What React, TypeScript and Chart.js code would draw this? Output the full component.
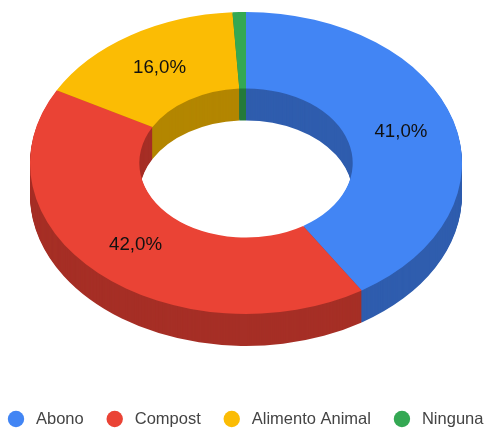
import React, { useEffect, useRef } from "react";
import { Chart, registerables } from "chart.js";

Chart.register(...registerables);

const categories = ["Abono", "Compost", "Alimento Animal", "Ninguna"];
const shares = [41, 42, 16, 1];
const faceColors = ["#4285F4", "#EA4335", "#FBBC04", "#34A853"];
const wallColors = ["#2F5DAE", "#A62F26", "#B38600", "#257A3B"];

// Slices thinner than this carry no percentage label.
const LABEL_MIN_SHARE = 5;

// Tilted-disc projection of the ring.
const CENTER_X = 246;
const CENTER_Y = 163;
const TILT = 151 / 216;
const DEPTH = 32;

// Legend row metrics: the row is wider than the built-in legend's wrapping allows.
const LEGEND_FONT = '16.5px "Liberation Sans", Arial, sans-serif';
const LEGEND_LEFT = 16;
const LEGEND_Y = 419;
const LEGEND_MARKER_RADIUS = 8.2;
const LEGEND_TEXT_OFFSET = 20;
const LEGEND_GAP = 31;

const arcGeometry = (arc: any) =>
  arc.getProps(["x", "y", "startAngle", "endAngle", "innerRadius", "outerRadius"], true);

const applyTilt = (ctx: CanvasRenderingContext2D, x: number, y: number) => {
  ctx.translate(CENTER_X, CENTER_Y);
  ctx.scale(1, TILT);
  ctx.translate(-x, -y);
};

// Tilts the doughnut, stacks darker copies of each slice beneath it for the
// side walls, and writes the percentages on top of the finished face.
const tiltedRing = {
  id: "tiltedRing",
  beforeDatasetsDraw(chart: any) {
    const { ctx } = chart;
    const arcs = chart.getDatasetMeta(0).data;
    const { x, y } = arcGeometry(arcs[0]);
    ctx.save();
    applyTilt(ctx, x, y);
    for (let d = DEPTH; d >= 1; d--) {
      arcs.forEach((arc: any, i: number) => {
        const g = arcGeometry(arc);
        const dy = d / TILT;
        ctx.beginPath();
        ctx.arc(g.x, g.y + dy, g.outerRadius, g.startAngle, g.endAngle);
        ctx.arc(g.x, g.y + dy, g.innerRadius, g.endAngle, g.startAngle, true);
        ctx.closePath();
        ctx.fillStyle = wallColors[i];
        ctx.fill();
      });
    }
  },
  afterDatasetsDraw(chart: any) {
    const { ctx } = chart;
    ctx.restore();
    const arcs = chart.getDatasetMeta(0).data;
    ctx.save();
    ctx.font = '18.7px "Liberation Sans", Arial, sans-serif';
    ctx.fillStyle = "#111111";
    ctx.textAlign = "center";
    ctx.textBaseline = "middle";
    arcs.forEach((arc: any, i: number) => {
      if (shares[i] < LABEL_MIN_SHARE) return;
      const g = arcGeometry(arc);
      const mid = (g.startAngle + g.endAngle) / 2;
      const r = (g.innerRadius + g.outerRadius) / 2;
      const px = CENTER_X + r * Math.cos(mid);
      const py = CENTER_Y + r * Math.sin(mid) * TILT;
      ctx.fillText(`${shares[i].toFixed(1).replace(".", ",")}%`, px, py);
    });
    ctx.restore();
  },
};

// Single-row legend along the bottom edge.
const legendRow = {
  id: "legendRow",
  afterDraw(chart: any) {
    const { ctx } = chart;
    ctx.save();
    ctx.font = LEGEND_FONT;
    ctx.textAlign = "left";
    ctx.textBaseline = "middle";
    let x = LEGEND_LEFT;
    categories.forEach((name, i) => {
      ctx.beginPath();
      ctx.arc(x, LEGEND_Y, LEGEND_MARKER_RADIUS, 0, Math.PI * 2);
      ctx.fillStyle = faceColors[i];
      ctx.fill();
      ctx.fillStyle = "#444444";
      const textX = x + LEGEND_TEXT_OFFSET;
      ctx.fillText(name, textX, LEGEND_Y);
      x = textX + ctx.measureText(name).width + LEGEND_GAP;
    });
    ctx.restore();
  },
};

export default function App() {
  const canvasRef = useRef<HTMLCanvasElement>(null);

  useEffect(() => {
    const chart = new Chart(canvasRef.current!, {
      type: "doughnut",
      data: {
        labels: categories,
        datasets: [
          {
            data: shares,
            backgroundColor: faceColors,
            borderWidth: 0,
            clip: false,
          } as any,
        ],
      },
      options: {
        responsive: false,
        animation: false,
        radius: 216,
        cutout: "49.4%",
        plugins: {
          tooltip: { enabled: false },
          legend: { display: false },
        },
      } as any,
      plugins: [tiltedRing, legendRow],
    });
    return () => chart.destroy();
  }, []);

  return (
    <canvas
      ref={canvasRef}
      width={485}
      height={428}
      style={{ position: "absolute", left: 0, top: 0, display: "block" }}
    />
  );
}
